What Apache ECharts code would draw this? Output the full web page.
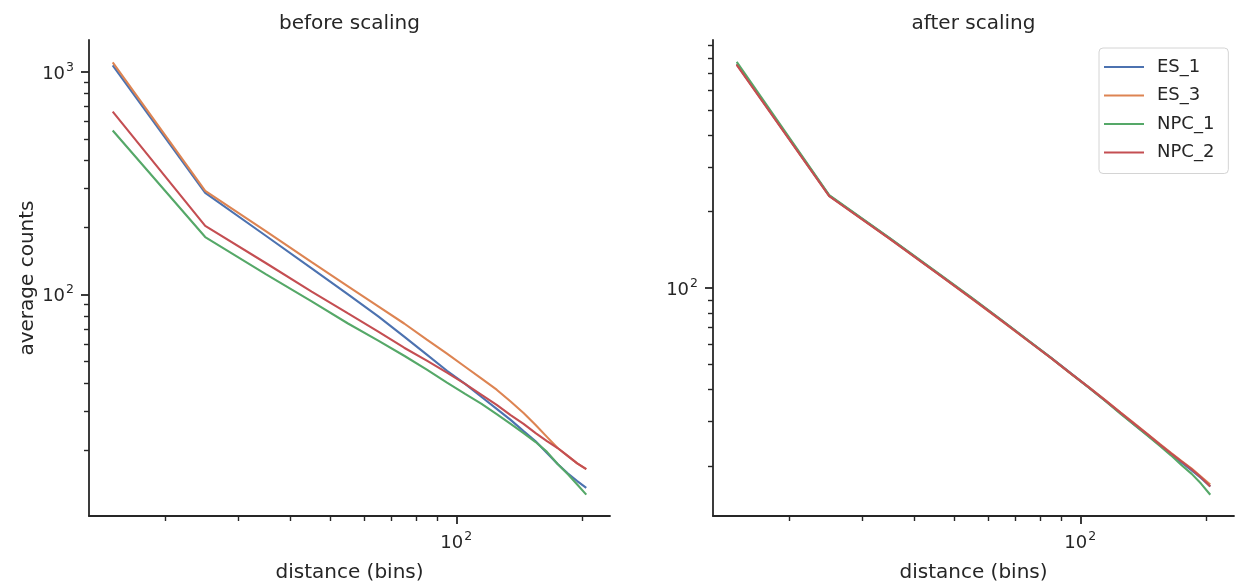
<!DOCTYPE html>
<html>
<head>
<meta charset="utf-8">
<script src="https://cdn.jsdelivr.net/npm/echarts@6/dist/echarts.min.js"></script>
<style>
  html, body { margin: 0; padding: 0; background: #fff; }
  #chart { width: 1236px; height: 583px; }
</style>
</head>
<body>
<div id="chart"></div>
<script>
// distance bins shared by every curve
const distance = [15, 25, 35, 45, 55, 65, 75, 85, 95, 105, 115, 125, 135, 145, 155, 165, 175, 185, 195, 205];

// average counts per sample, raw
const beforeES1  = [1070, 286, 183, 131, 100, 79.6, 64.6, 53.6, 45.4, 39.6, 34.6, 30.6, 27.3, 24.3, 21.9, 19.4, 17.3, 15.7, 14.5, 13.5];
const beforeES3  = [1104, 292, 192, 139.5, 108.7, 88.3, 74.0, 62.6, 54.2, 47.3, 41.8, 37.3, 33.0, 29.3, 25.9, 22.9, 20.4, 18.8, 17.4, 16.4];
const beforeNPC1 = [545, 181, 123, 93.0, 74.0, 62.0, 53.0, 45.9, 40.1, 35.7, 32.2, 29.0, 26.2, 23.8, 21.7, 19.6, 17.3, 15.6, 14.0, 12.6];
const beforeNPC2 = [663, 203, 138, 103, 82.1, 68.1, 57.6, 50.4, 44.5, 39.6, 35.4, 31.9, 28.7, 26.2, 23.8, 21.9, 20.4, 18.8, 17.4, 16.4];

// average counts per sample, after scaling
const afterES1  = [762, 231, 156.5, 115.8, 91.2, 74.4, 62.2, 53.3, 46.2, 40.6, 36.0, 32.2, 29.0, 26.4, 24.2, 22.3, 20.6, 19.2, 17.9, 16.6];
const afterES3  = [758, 230.5, 156, 115.5, 90.8, 74.0, 62.0, 53.1, 46.0, 40.7, 36.2, 32.4, 29.3, 26.7, 24.4, 22.5, 20.9, 19.5, 18.1, 16.9];
const afterNPC1 = [776, 232, 157, 116.5, 91.5, 74.6, 62.3, 53.3, 46.1, 40.5, 35.9, 32.0, 28.9, 26.3, 24.0, 22.0, 20.1, 18.6, 17.0, 15.4];
const afterNPC2 = [755, 230.2, 155.9, 115.6, 90.9, 74.2, 62.1, 53.2, 46.1, 40.6, 36.1, 32.3, 29.2, 26.6, 24.3, 22.4, 20.8, 19.4, 18.0, 16.6];

const sampleNames = ['ES_1', 'ES_3', 'NPC_1', 'NPC_2'];
const panelTitles = ['before scaling', 'after scaling'];

// tick positions (decades labelled, the rest are minor ticks)
const xMajorTicks = [100];
const xMinorTicks = [20, 30, 40, 50, 60, 70, 80, 90, 200];
const yMajorTicksLeft = [100, 1000];
const yMajorTicksRight = [100];
const yMinorTicks = [20, 30, 40, 50, 60, 70, 80, 90, 200, 300, 400, 500, 600, 700, 800, 900];

const palette = ['#4C72B0', '#DD8452', '#55A868', '#C44E52'];
const ink = '#262626';
const font = 'DejaVu Sans';

const X_MIN = 13.16, X_MAX = 233.7;
const Y_LEFT = [10.1, 1390];
const Y_RIGHT = [12.7, 946];

// "10" with a raised exponent, like 10^2
const powLabel = v => '{b|10}{s|' + Math.round(Math.log10(v)) + '}';
const powRich = {
  b: { fontSize: 18, lineHeight: 22, color: ink, fontFamily: font, verticalAlign: 'bottom' },
  s: { fontSize: 12.5, lineHeight: 22, color: ink, fontFamily: font, verticalAlign: 'top', padding: [0, 0, 6, 1] }
};

// fixed plot boxes; outer bounds handling off so the boxes keep their size
const gridBox = [
  { left: 89, top: 40, width: 521, height: 476 },
  { left: 713, top: 40, width: 521, height: 476 }
];

function pairs(ys) { return distance.map((d, i) => [d, ys[i]]); }

function xAxesFor(g) {
  return [
    {
      gridIndex: g, type: 'log', min: X_MIN, max: X_MAX, position: 'bottom',
      name: 'distance (bins)', nameLocation: 'middle', nameGap: 47,
      nameTextStyle: { fontSize: 20, color: ink, fontFamily: font },
      axisLine: { show: true, lineStyle: { color: ink, width: 1.8 } },
      axisTick: { show: true, customValues: xMajorTicks, length: 8, lineStyle: { color: ink, width: 1.8 } },
      axisLabel: { customValues: xMajorTicks, formatter: powLabel, rich: powRich, margin: 14 },
      splitLine: { show: false }
    },
    {
      gridIndex: g, type: 'log', min: X_MIN, max: X_MAX, position: 'bottom',
      axisLine: { show: false },
      axisTick: { show: true, customValues: xMinorTicks, length: 5, lineStyle: { color: ink, width: 1.4 } },
      axisLabel: { show: false },
      splitLine: { show: false }
    }
  ];
}

function yAxesFor(g, range, majors, withName) {
  return [
    {
      gridIndex: g, type: 'log', min: range[0], max: range[1], position: 'left',
      name: withName ? 'average counts' : '', nameLocation: 'middle', nameGap: 51,
      nameTextStyle: { fontSize: 20, color: ink, fontFamily: font },
      axisLine: { show: true, lineStyle: { color: ink, width: 1.8 } },
      axisTick: { show: true, customValues: majors, length: 8, lineStyle: { color: ink, width: 1.8 } },
      axisLabel: { customValues: majors, formatter: powLabel, rich: powRich, margin: 15 },
      splitLine: { show: false }
    },
    {
      gridIndex: g, type: 'log', min: range[0], max: range[1], position: 'left',
      axisLine: { show: false },
      axisTick: { show: true, customValues: yMinorTicks, length: 5, lineStyle: { color: ink, width: 1.4 } },
      axisLabel: { show: false },
      splitLine: { show: false }
    }
  ];
}

const beforeSets = [beforeES1, beforeES3, beforeNPC1, beforeNPC2];
const afterSets = [afterES1, afterES3, afterNPC1, afterNPC2];

const series = [];
[beforeSets, afterSets].forEach((sets, g) => {
  sets.forEach((ys, k) => {
    series.push({
      type: 'line', name: sampleNames[k],
      xAxisIndex: g * 2, yAxisIndex: g * 2,
      data: pairs(ys),
      showSymbol: false, symbol: 'none',
      lineStyle: { color: palette[k], width: 2.1 },
      itemStyle: { color: palette[k] },
      z: 2 + k,
      animation: false
    });
  });
});

const chart = echarts.init(document.getElementById('chart'), null, { renderer: 'canvas' });
chart.setOption({
  animation: false,
  backgroundColor: '#fff',
  color: palette,
  textStyle: { fontFamily: font },
  title: panelTitles.map((t, g) => ({
    text: t,
    left: gridBox[g].left + gridBox[g].width / 2,
    top: 14,
    textAlign: 'center',
    padding: 0,
    textStyle: { fontSize: 20, fontWeight: 'normal', color: ink, fontFamily: font }
  })),
  legend: {
    data: sampleNames,
    orient: 'vertical',
    left: 1099, top: 48,
    padding: [9, 14, 11, 5],
    itemGap: 8.5,
    itemWidth: 40, itemHeight: 2,
    icon: 'rect',
    backgroundColor: '#fff',
    borderColor: '#d4d4d4', borderWidth: 1, borderRadius: 4,
    textStyle: { fontSize: 18, color: ink, fontFamily: font, lineHeight: 20, padding: [0, 0, 0, 8] }
  },
  grid: gridBox.map(b => Object.assign({ containLabel: false, outerBoundsMode: 'none' }, b)),
  xAxis: [...xAxesFor(0), ...xAxesFor(1)],
  yAxis: [...yAxesFor(0, Y_LEFT, yMajorTicksLeft, true), ...yAxesFor(1, Y_RIGHT, yMajorTicksRight, false)],
  series: series
});
</script>
</body>
</html>
